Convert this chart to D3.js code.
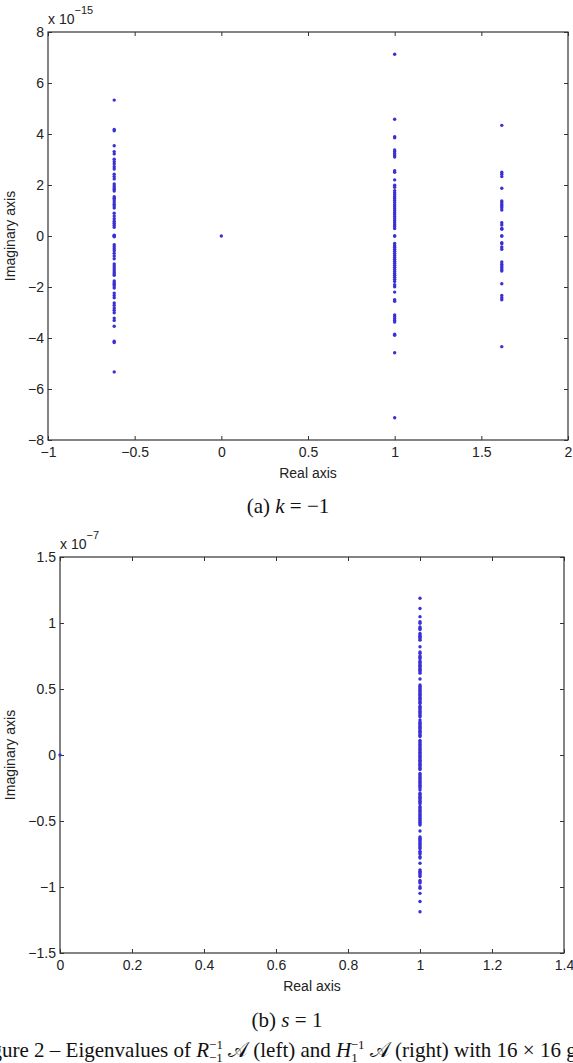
<!DOCTYPE html>
<html>
<head>
<meta charset="utf-8">
<script src="https://cdn.jsdelivr.net/npm/d3@7"></script>
<style>
  body { margin: 0; background: #fff; }
  svg { display: block; }
  .tick text { font-family: "Liberation Sans", Arial, sans-serif; font-size: 14px; fill: #222; }
  .lbl { font-family: "Liberation Sans", Arial, sans-serif; font-size: 14px; fill: #222; }
  .serif { font-family: "Liberation Serif", "Times New Roman", serif; fill: #111; }
</style>
</head>
<body>
<div id="chart"></div>
<script>
const W = 573, H = 1063;

// ---- panel (a): k = -1, imaginary parts in units of 1e-15
const aXTicks = [-1, -0.5, 0, 0.5, 1, 1.5, 2];
const aYTicks = [-8, -6, -4, -2, 0, 2, 4, 6, 8];
const aReal = [-0.618, 0, 1, 1.618];
const aImagNeg = [5.33, 4.18, 4.13, 3.54, 3.31, 3.22, 3.01, 2.91, 2.82, 2.72, 2.63, 2.42, 2.33, 2.24, 2.04, 1.96, 1.89, 1.83, 1.76,
  1.54, 1.48, 1.41, 1.33, 1.25, 1.18, 1.10, 0.89, 0.78, 0.68, 0.58, 0.50, 0.42, 0.34, 0.03, 0, 0,
  -0.03, -0.34, -0.42, -0.50, -0.58, -0.68, -0.78, -0.89, -1.10, -1.18, -1.25, -1.33, -1.41, -1.48, -1.54,
  -1.76, -1.83, -1.89, -1.96, -2.04, -2.24, -2.33, -2.42, -2.63, -2.72, -2.82, -2.91, -3.01, -3.22, -3.31, -3.54, -4.13, -4.18, -5.33];
const aImagZero = [0];
const aImagOne = [7.13, 4.58, 3.89, 3.85, 3.37, 3.31, 3.24, 3.16, 3.10, 2.56, 2.50, 2.20, 1.99, 1.91, 1.78, 1.70, 1.62, 1.54,
  1.47, 1.39, 1.31, 1.23, 1.15, 1.07, 0.99, 0.91, 0.84, 0.76, 0.68, 0.60, 0.52, 0.44, 0.37, 0.29, 0, 0,
  -0.29, -0.37, -0.44, -0.52, -0.60, -0.68, -0.76, -0.84, -0.91, -0.99, -1.07, -1.15, -1.23, -1.31, -1.39, -1.47,
  -1.54, -1.62, -1.70, -1.78, -1.91, -1.99, -2.20, -2.50, -2.56, -3.10, -3.16, -3.24, -3.31, -3.37, -3.85, -3.89, -4.58, -7.13];
const aImagGolden = [4.34, 2.50, 2.42, 2.33, 1.87, 1.37, 1.31, 1.24, 1.18, 1.11, 1.02, 0.52, 0.43, 0.30, 0.26, 0, 0,
  -0.26, -0.30, -0.43, -0.52, -1.02, -1.11, -1.18, -1.24, -1.31, -1.37, -1.87, -2.33, -2.42, -2.50, -4.34];

// ---- panel (b): s = 1, imaginary parts in units of 1e-7
const bXTicks = [0, 0.2, 0.4, 0.6, 0.8, 1, 1.2, 1.4];
const bYTicks = [-1.5, -1, -0.5, 0, 0.5, 1, 1.5];
const bReal = [0, 1];
const bImagZero = [0];
const bImagOne = [1.187, 1.11, 1.048, 1.01, 0.998, 0.97, 0.96, 0.95, 0.92, 0.91, 0.90, 0.89, 0.88, 0.87, 0.82, 0.78, 0.77,
  0.75, 0.74, 0.73, 0.71, 0.70, 0.69, 0.68, 0.67, 0.66, 0.65, 0.64, 0.63, 0.62, 0.576, 0.53, 0.52, 0.51, 0.50, 0.49,
  0.48, 0.47, 0.46, 0.45, 0.44, 0.43, 0.42, 0.41, 0.40, 0.39, 0.37, 0.36, 0.35, 0.34, 0.33, 0.32, 0.31, 0.30, 0.29,
  0.265, 0.25, 0.24, 0.23, 0.22, 0.21, 0.20, 0.19, 0.18, 0.17, 0.16, 0.15, 0.14, 0.11, 0.10, 0.09, 0.08, 0.07, 0.06,
  0.05, 0.04, 0.03, 0.02, 0.01, 0,
  -0.01, -0.02, -0.03, -0.04, -0.05, -0.06, -0.07, -0.08, -0.09, -0.10, -0.11, -0.14, -0.15, -0.16, -0.17, -0.18,
  -0.19, -0.20, -0.21, -0.22, -0.23, -0.24, -0.25, -0.265, -0.29, -0.30, -0.31, -0.32, -0.33, -0.34, -0.35, -0.36,
  -0.37, -0.39, -0.40, -0.41, -0.42, -0.43, -0.44, -0.45, -0.46, -0.47, -0.48, -0.49, -0.50, -0.51, -0.52, -0.53,
  -0.576, -0.62, -0.63, -0.64, -0.65, -0.66, -0.67, -0.68, -0.69, -0.70, -0.71, -0.73, -0.74, -0.75, -0.77, -0.78,
  -0.82, -0.87, -0.88, -0.89, -0.90, -0.91, -0.92, -0.95, -0.96, -0.97, -0.998, -1.01, -1.048, -1.11, -1.187];

const dotColor = "#3a30d4";

const svg = d3.select("#chart").append("svg")
    .attr("width", W)
    .attr("height", H);

const fmt = d => (d < 0 ? "\u2212" : "") + Math.abs(d);

function drawPanel(cfg) {
    const x = d3.scaleLinear().domain(cfg.xDomain).range([cfg.left, cfg.right]);
    const y = d3.scaleLinear().domain(cfg.yDomain).range([cfg.bottom, cfg.top]);
    const g = svg.append("g");

    // ticks: inward, on all four sides (matlab box)
    g.append("g").attr("transform", `translate(0,${cfg.bottom})`)
        .call(d3.axisBottom(x).tickValues(cfg.xTicks).tickFormat(fmt).tickSizeInner(-4).tickSizeOuter(0).tickPadding(7));
    g.append("g").attr("transform", `translate(0,${cfg.top})`)
        .call(d3.axisTop(x).tickValues(cfg.xTicks).tickFormat("").tickSizeInner(-4).tickSizeOuter(0));
    g.append("g").attr("transform", `translate(${cfg.left},0)`)
        .call(d3.axisLeft(y).tickValues(cfg.yTicks).tickFormat(fmt).tickSizeInner(-4).tickSizeOuter(0).tickPadding(4));
    g.append("g").attr("transform", `translate(${cfg.right},0)`)
        .call(d3.axisRight(y).tickValues(cfg.yTicks).tickFormat("").tickSizeInner(-4).tickSizeOuter(0));
    g.selectAll(".domain").remove();
    g.selectAll(".tick line").attr("stroke", "#333").attr("stroke-width", 1);

    g.append("rect")
        .attr("x", cfg.left).attr("y", cfg.top)
        .attr("width", cfg.right - cfg.left).attr("height", cfg.bottom - cfg.top)
        .attr("fill", "none").attr("stroke", "#333").attr("stroke-width", 1.2);

    // exponent label
    const ex = g.append("text").attr("class", "lbl")
        .attr("x", cfg.left).attr("y", cfg.top - 8).text("x 10");
    ex.append("tspan").attr("dy", -10).attr("font-size", 11).text(cfg.expo);

    g.append("text").attr("class", "lbl")
        .attr("x", (cfg.left + cfg.right) / 2).attr("y", cfg.bottom + 38)
        .attr("text-anchor", "middle").text("Real axis");

    g.append("text").attr("class", "lbl")
        .attr("transform", `translate(15,${(cfg.top + cfg.bottom) / 2}) rotate(-90)`)
        .attr("text-anchor", "middle").text("Imaginary axis");

    g.append("g").selectAll("circle")
        .data(cfg.points)
        .join("circle")
        .attr("cx", d => x(d.re))
        .attr("cy", d => y(d.im))
        .attr("r", 1.7)
        .attr("fill", dotColor);
}

const toPoints = (reals, imags) => reals.flatMap((re, i) => imags[i].map(im => ({ re, im })));

drawPanel({
    left: 48, right: 568, top: 32, bottom: 440,
    xDomain: [-1, 2], yDomain: [-8, 8],
    xTicks: aXTicks, yTicks: aYTicks, expo: "\u221215",
    points: toPoints(aReal, [aImagNeg, aImagZero, aImagOne, aImagGolden])
});

drawPanel({
    left: 60, right: 564, top: 557, bottom: 953,
    xDomain: [0, 1.4], yDomain: [-1.5, 1.5],
    xTicks: bXTicks, yTicks: bYTicks, expo: "\u22127",
    points: toPoints(bReal, [bImagZero, bImagOne])
});

// sub-captions
const capA = svg.append("text").attr("class", "serif").attr("font-size", 21)
    .attr("x", 288).attr("y", 513).attr("text-anchor", "middle");
capA.append("tspan").text("(a) ");
capA.append("tspan").attr("font-style", "italic").text("k");
capA.append("tspan").text(" = \u22121");

const capB = svg.append("text").attr("class", "serif").attr("font-size", 21)
    .attr("x", 287).attr("y", 1027).attr("text-anchor", "middle");
capB.append("tspan").text("(b) ");
capB.append("tspan").attr("font-style", "italic").text("s");
capB.append("tspan").text(" = 1");

// figure caption (wider than the page, clipped both sides as in the source)
const cap = svg.append("text").attr("class", "serif").attr("font-size", 21)
    .attr("x", 287).attr("y", 1057).attr("text-anchor", "middle");
cap.append("tspan").text("Figure 2 \u2013 Eigenvalues of ");
cap.append("tspan").attr("font-style", "italic").text("R");
cap.append("tspan").attr("font-size", 13).attr("dy", -8).text("\u22121");
cap.append("tspan").attr("font-size", 13).attr("dx", -14).attr("dy", 13).text("\u22121");
cap.append("tspan").attr("dy", -5).text(" \ud835\udc9c (left) and ");
cap.append("tspan").attr("font-style", "italic").text("H");
cap.append("tspan").attr("font-size", 13).attr("dy", 5).text("1");
cap.append("tspan").attr("font-size", 13).attr("dx", -7).attr("dy", -13).text("\u22121");
cap.append("tspan").attr("dy", 8).text(" \ud835\udc9c (right) with 16 \u00d7 16 grid");
</script>
</body>
</html>
